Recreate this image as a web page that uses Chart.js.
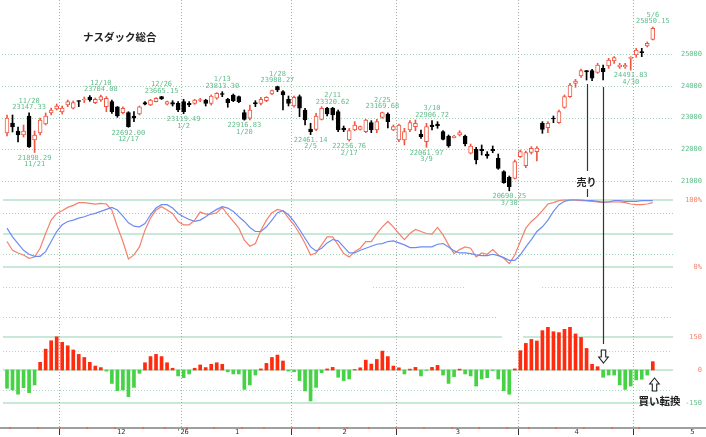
<!DOCTYPE html>
<html><head><meta charset="utf-8">
<script src="https://cdn.jsdelivr.net/npm/chart.js@4.4.1/dist/chart.umd.min.js"></script>
<style>html,body{margin:0;padding:0;background:#fff;overflow:hidden}canvas{display:block}</style>
</head><body>
<canvas id="c" width="706" height="437" style="width:706px;height:437px"></canvas>
<script>
// ---- categories (trading days) ----
const dates = [
'2025-11-14','2025-11-17','2025-11-18','2025-11-19','2025-11-20','2025-11-21','2025-11-24','2025-11-25','2025-11-26','2025-11-28',
'2025-12-01','2025-12-02','2025-12-03','2025-12-04','2025-12-05','2025-12-08','2025-12-09','2025-12-10','2025-12-11','2025-12-12','2025-12-15','2025-12-16','2025-12-17','2025-12-18','2025-12-19','2025-12-22','2025-12-23','2025-12-24','2025-12-26','2025-12-29','2025-12-30','2025-12-31',
'2026-01-02','2026-01-05','2026-01-06','2026-01-07','2026-01-08','2026-01-09','2026-01-12','2026-01-13','2026-01-14','2026-01-15','2026-01-16','2026-01-20','2026-01-21','2026-01-22','2026-01-23','2026-01-26','2026-01-27','2026-01-28','2026-01-29','2026-01-30',
'2026-02-02','2026-02-03','2026-02-04','2026-02-05','2026-02-06','2026-02-09','2026-02-10','2026-02-11','2026-02-12','2026-02-13','2026-02-17','2026-02-18','2026-02-19','2026-02-20','2026-02-23','2026-02-24','2026-02-25','2026-02-26','2026-02-27',
'2026-03-02','2026-03-03','2026-03-04','2026-03-05','2026-03-06','2026-03-09','2026-03-10','2026-03-11','2026-03-12','2026-03-13','2026-03-16','2026-03-17','2026-03-18','2026-03-19','2026-03-20','2026-03-23','2026-03-24','2026-03-25','2026-03-26','2026-03-27','2026-03-30','2026-03-31',
'2026-04-01','2026-04-02','2026-04-06','2026-04-07','2026-04-08','2026-04-09','2026-04-10','2026-04-13','2026-04-14','2026-04-15','2026-04-16','2026-04-17','2026-04-20','2026-04-21','2026-04-22','2026-04-23','2026-04-24','2026-04-27','2026-04-28','2026-04-29','2026-04-30',
'2026-05-01','2026-05-04','2026-05-05','2026-05-06'];

// ---- price series (OHLC) ----
const open = [22512,22827,22575,22449,23047,22291,22512,22795,23142,23268,
23173,23394,23290,23520,23551,23640,23466,23551,23340,23498,23340,23152,23152,23047,23110,23466,23394,23498,23656,23416,23466,23447,
23498,23447,23447,23536,23551,23447,23606,23756,23574,23709,23656,23152,22975,23466,23447,23530,23740,23970,23813,23574,
23362,23656,23236,22638,22628,22943,23290,23290,23183,22669,22291,22606,22628,22553,22837,22606,23006,23110,22606,
22291,22291,22606,22711,22480,22238,22764,22795,22553,22417,22364,22449,22417,21873,22000,22000,21850,22000,21716,21293,21116,
21085,21766,21483,21904,21923,22817,22680,22984,22836,23321,23656,24077,24307,24474,24474,24423,24550,24622,24780,24601,24590,24864,
24968,25073,25252,25463];
const high = [23079,23079,22701,22764,23147.33,22575,22984,23142,23299,23425,
23362,23551,23520,23530,23646,23690,23614,23704.08,23656,23551,23345,23340,23183,23183,23362,23498,23573,23625,23665.15,23520,23530,23498,
23574,23498,23574,23604,23574,23709,23782,23813.30,23604,23740,23677,23236,23394,23530,23637,23656,23866,23988.27,23845,23677,
23677,23709,23290,22818,23132,23340,23320,23320.62,23236,22732,22659,22868,22732,22943,22900,22943,23169.68,23150,22764,
22795,22659,22900,22921,22606,22817,22906.72,22868,22585,22449,22435,22585,22449,22165,22062,22134,21924,22102,21850,21325,21157,
21661,21976,21940,22081,22081,22868,22868,23047,23236,23709,24076,24202,24527,24480,24517,24706,24653,24864,24916,24706,24706,24916,
25180,25180,25380,25850.15];
const low = [22417,22543,22228,22386,22060,21898.29,22449,22764,23079,23236,
23110,23340,23268,23340,23470,23510,23435,23510,23182,23132,23006,23110,22692.00,22868,23079,23394,23372,23488,23567,23394,23362,23183,
23119.49,23340,23416,23498,23362,23394,23574,23656,23322,23498,23466,22916.83,22921,23340,23394,23498,23719,23813,23236,23362,
23322,23026,22764,22461.14,22585,22921,23047,22921,22554,22554,22256.76,22585,22606,22522,22522,22522,22975,22670,22585,
22238,22134,22553,22585,22345,22061.97,22606,22660,22291,22062,22354,22417,22102,21850,21535,21819,21716,21892,21368,20927,20690.25,
21062,21740,21420,21850,21630,22502,22520,22836,22815,23290,23635,23950,24265,24181,24160,24391,24181,24548,24706,24548,24548,24491.83,
24895,24916,25220,25441];
const close = [22984,22701,22449,22575,22071,22449,22921,23047,23236,23362,
23299,23500,23470,23505,23583,23551,23574,23656,23604,23182,23047,23290,22710,22975,23340,23416,23551,23604,23583,23498,23416,23236,
23182,23394,23551,23567,23447,23677,23762,23725,23466,23529,23498,22943,23236,23425,23574,23637,23845,23866,23709,23447,
23636,23290,22921,22554,23047,23290,23110,23079,22606,22606,22585,22764,22711,22921,22606,22868,23155,22868,22711,
22764,22553,22837,22817,22396,22711,22711,22732,22313,22102,22417,22522,22165,22102,21661,21956,21787,21956,21400,20947,20820,
21608,21923,21892,22029,22039,22628,22817,22953,23183,23656,24024,24150,24474,24433,24235,24653,24443,24811,24884,24653,24650,24895,
25126,25042,25337,25810];

// ---- stochastics (%) ----
const stochFast = [38,25,21,18,13,15,28,50,70,80,
84,89,92,96,96,95,94,95,94,85,60,38,12,18,30,55,73,85,90,85,80,68,
63,63,70,82,79,79,81,89,78,68,58,40,31,35,55,70,81,86,84,73,
63,50,35,18,21,33,45,45,33,20,15,23,28,38,38,50,60,68,60,
50,41,50,56,53,50,49,59,48,33,20,26,30,28,15,21,19,26,18,13,5,
18,38,58,68,75,84,94,96,99,100,100,100,99,99,98,97,96,97,97,97,96,94,
93,93,94,96];
const stochSlow = [58,45,35,25,19,16,16,23,38,53,
63,68,70,73,75,78,80,83,86,89,85,76,66,61,60,65,78,88,93,93,88,80,
75,71,68,70,75,81,86,90,88,83,75,68,59,53,53,60,70,81,84,78,
68,56,43,30,24,28,36,41,39,30,21,21,25,28,31,34,35,38,39,
36,33,29,29,30,30,30,34,35,30,24,21,21,20,18,17,17,19,17,14,10,
10,18,30,41,53,60,70,83,93,98,100,100,100,99,99,98,97,97,99,99,98,98,
98,99,99,99];

// ---- oscillator histogram ----
const oscHist = [-83,-91,-110,-80,-103,-68,35,95,133,151,
126,110,91,71,57,35,18,11,-5,-61,-94,-91,-121,-79,-15,33,61,71,61,33,8,-27,
-35,-18,8,23,11,26,33,26,-8,-18,-18,-88,-68,-23,5,30,57,68,41,-5,
-8,-48,-95,-141,-79,-12,5,12,-33,-48,-41,2,10,45,27,48,86,61,18,
10,-18,4,12,-27,-2,12,21,-23,-61,-30,4,-18,-27,-73,-41,-35,-2,-41,-94,-110,
5,88,121,139,132,179,194,174,170,185,194,164,148,98,26,15,-33,-23,-23,-68,-88,-73,
-45,-42,-23,38];

// ---- annotations / tick labels ----
const highMarks = ['2025-11-20','2025-12-10','2025-12-26','2026-01-13','2026-01-28','2026-02-11','2026-02-25','2026-03-10','2026-05-06'];
const lowMarks = ['2025-11-21','2025-12-17','2026-01-02','2026-01-20','2026-02-05','2026-02-17','2026-03-09','2026-03-30','2026-04-30'];
const priceTicks = [25000,24000,23000,22000,21000];
const stochTicks = ['100%','0%'];
const oscTicks = [150,0,-150];
const monthTickLabels = ['12','1','2','3','4','5'];
const yearTickLabel = "'26";
const title = 'ナスダック総合';
const sellLabel = '売り';
const buyLabel = '買い転換';
const sellDates = ['2026-04-20','2026-04-23'];
const buyDate = '2026-05-06';

// ---- styling ----
const RED = '#ef5742', GREENTXT = '#62bd8c', SALMON = '#f4846f';
const MONO = '"DejaVu Sans Mono", monospace';
const CJK = '"Noto Sans CJK JP", sans-serif';
const idxOf = d => dates.indexOf(d);
const up = i => close[i] >= open[i];
const md = d => { const p = d.split('-'); return (+p[1]) + '/' + (+p[2]); };

const panels = {
  id: 'panels',
  beforeDraw(chart) {
    const ctx = chart.ctx;
    ctx.save(); ctx.fillStyle = '#fff'; ctx.fillRect(0, 0, chart.width, chart.height); ctx.restore();
  },
  beforeDatasetsDraw(chart) {
    const {ctx, scales: {x, yp, ys, ym}} = chart;
    ctx.save();
    const hline = (y, dotted, color, lw, segs) => {
      ctx.strokeStyle = color; ctx.lineWidth = lw;
      ctx.setLineDash(dotted ? [1, 2] : []);
      const yy = Math.round(y) + (lw % 2 ? 0.5 : 0);
      (segs || [[2, 672]]).forEach(([a, b]) => { ctx.beginPath(); ctx.moveTo(a, yy); ctx.lineTo(b, yy); ctx.stroke(); });
    };
    // price grid
    priceTicks.forEach(v => hline(yp.getPixelForValue(v), true, '#9fd6b8', 1));
    // stochastic grid
    [100, 50, 0].forEach(v => hline(ys.getPixelForValue(v), false, '#c9e8d7', 2, [[3, 673]]));
    [80, 20].forEach(v => hline(ys.getPixelForValue(v), true, '#9fd6b8', 1, [[3, 673]]));
    // oscillator grid
    hline(ym.getPixelForValue(379), true, '#a8dcbf', 1, [[3, 297], [373, 465], [542, 672]]);
    hline(ym.getPixelForValue(240), true, '#a8dcbf', 1, [[3, 498], [523, 672]]);
    hline(ym.getPixelForValue(150), false, '#c9e8d7', 2, [[3, 502], [523, 673]]);
    hline(ym.getPixelForValue(0), false, '#c9e8d7', 2, [[3, 673]]);
    hline(ym.getPixelForValue(-150), false, '#c9e8d7', 2, [[3, 673]]);
    [88, -91].forEach(v => hline(ym.getPixelForValue(v), true, '#a8dcbf', 1, [[3, 672]]));

    // month boundaries
    const bounds = [];
    for (let i = 1; i < dates.length; i++) if (dates[i].slice(5, 7) !== dates[i - 1].slice(5, 7)) bounds.push(i);
    ctx.setLineDash([1, 2]); ctx.strokeStyle = '#a9a9a9'; ctx.lineWidth = 1;
    bounds.forEach(i => {
      const px = Math.round(x.getPixelForValue(i - 0.5)) + 0.5;
      ctx.beginPath(); ctx.moveTo(px, 0); ctx.lineTo(px, 427); ctx.stroke();
    });
    ctx.setLineDash([]);
    // x axis line
    ctx.strokeStyle = '#a0a0a0'; ctx.lineWidth = 2;
    ctx.beginPath(); ctx.moveTo(0, 428); ctx.lineTo(706, 428); ctx.stroke();
    // weekly red marks
    ctx.fillStyle = '#f06a55';
    const wd = d => new Date(d + 'T00:00:00Z').getUTCDay();
    for (let i = 1; i < dates.length; i++) if (wd(dates[i]) < wd(dates[i - 1])) {
      const px = Math.round(x.getPixelForValue(i - 0.45));
      ctx.fillRect(px - 1, 427, 2, 2);
    }
    // month ticks + labels
    ctx.font = '7px ' + MONO; ctx.fillStyle = '#333'; ctx.textAlign = 'center'; ctx.textBaseline = 'middle';
    ctx.strokeStyle = '#333'; ctx.lineWidth = 1;
    bounds.forEach(i => {
      const px = Math.round(x.getPixelForValue(i - 0.5)) + 0.5;
      if (dates[i].slice(0, 4) !== dates[i - 1].slice(0, 4)) {
        ctx.fillText(yearTickLabel, px + 1, 432.5);
      } else {
        ctx.beginPath(); ctx.moveTo(px, 429); ctx.lineTo(px, 435); ctx.stroke();
      }
    });
    // month mid labels (months starting at a boundary)
    bounds.forEach((b, k) => {
      const end = k + 1 < bounds.length ? bounds[k + 1] - 1 : b + 20;
      const mid = (b + end) / 2;
      ctx.fillText(monthTickLabels[k], x.getPixelForValue(mid) + 1, 432.5);
    });

    // right labels
    ctx.textAlign = 'right'; ctx.font = '7px ' + MONO;
    ctx.fillStyle = GREENTXT;
    priceTicks.forEach(v => ctx.fillText(String(v), 702, yp.getPixelForValue(v)));
    ctx.fillStyle = SALMON;
    ctx.fillText(stochTicks[0], 702, ys.getPixelForValue(100));
    ctx.fillText(stochTicks[1], 702, ys.getPixelForValue(0));
    oscTicks.forEach(v => { ctx.fillStyle = v < 0 ? GREENTXT : SALMON; ctx.fillText(String(v), 702, ym.getPixelForValue(v)); });
    ctx.restore();
  },
  afterDatasetsDraw(chart) {
    const {ctx, scales: {x, yp, ym}} = chart;
    ctx.save();
    // price marks (clipped to panel)
    ctx.save();
    ctx.beginPath(); ctx.rect(0, 0, 669, 437); ctx.clip();
    ctx.font = '7px ' + MONO; ctx.fillStyle = GREENTXT; ctx.textAlign = 'center'; ctx.textBaseline = 'middle';
    highMarks.forEach(d => {
      const i = idxOf(d), px = x.getPixelForValue(i), py = yp.getPixelForValue(high[i]);
      ctx.fillText(md(d), px, py - 12);
      ctx.fillText(high[i].toFixed(2), px, py - 5.5);
    });
    lowMarks.forEach(d => {
      const i = idxOf(d), px = x.getPixelForValue(i), py = yp.getPixelForValue(low[i]);
      ctx.fillText(low[i].toFixed(2), px, py + 5.5);
      ctx.fillText(md(d), px, py + 12);
    });
    ctx.restore();
    // title
    ctx.font = 'bold 10.5px ' + CJK; ctx.fillStyle = '#222'; ctx.textAlign = 'left'; ctx.textBaseline = 'middle';
    ctx.fillText(title, 83, 37);
    // sell annotation
    ctx.strokeStyle = '#333'; ctx.lineWidth = 1.2;
    const s1 = idxOf(sellDates[0]), s2 = idxOf(sellDates[1]);
    const x1 = Math.round(x.getPixelForValue(s1)) + 0.5, x2 = Math.round(x.getPixelForValue(s2)) + 0.5;
    ctx.beginPath();
    ctx.moveTo(x1, yp.getPixelForValue(low[s1]) + 4); ctx.lineTo(x1, 171);
    ctx.moveTo(x1, 189); ctx.lineTo(x1, 197);
    ctx.moveTo(x2, yp.getPixelForValue(low[s2]) + 7); ctx.lineTo(x2, 344);
    ctx.stroke();
    ctx.font = 'bold 10px ' + CJK; ctx.fillStyle = '#222'; ctx.textAlign = 'center';
    ctx.fillText(sellLabel, x1 - 1, 182);
    const arrow = (cx, tipY, dir) => {
      const sh = 2.2, hw = 4.8, hl = 6, sl = 7;
      const pts = [[0, 0], [hw, -hl], [sh, -hl], [sh, -hl - sl], [-sh, -hl - sl], [-sh, -hl], [-hw, -hl]];
      ctx.beginPath();
      pts.forEach(([a, b], k) => { const X = cx + a, Y = tipY + b * dir; k ? ctx.lineTo(X, Y) : ctx.moveTo(X, Y); });
      ctx.closePath(); ctx.fillStyle = '#fff'; ctx.fill(); ctx.strokeStyle = '#222'; ctx.lineWidth = 1.1; ctx.stroke();
    };
    arrow(x2, 363, 1);
    const b = idxOf(buyDate), bx = Math.round(x.getPixelForValue(b)) + 0.5;
    arrow(bx + 1, ym.getPixelForValue(0) + 8, -1);
    ctx.font = 'bold 10.5px ' + CJK; ctx.fillStyle = '#222'; ctx.textAlign = 'center';
    ctx.fillText(buyLabel, bx + 6, 401);
    ctx.restore();
  }
};

const idx = dates.map((_, i) => i);
new Chart(document.getElementById('c'), {
  type: 'bar',
  data: {
    datasets: [
      { label: 'body', yAxisID: 'yp', order: 1, grouped: false, barThickness: 4, minBarLength: 1,
        borderSkipped: false, borderWidth: 1,
        data: idx.map(i => ({x: i, y: [open[i], close[i]]})),
        backgroundColor: idx.map(i => up(i) ? '#ffffff' : '#000000'),
        borderColor: idx.map(i => up(i) ? RED : '#000000') },
      { label: 'wick', yAxisID: 'yp', order: 2, grouped: false, barThickness: 1,
        data: idx.map(i => ({x: i, y: [low[i], high[i]]})),
        backgroundColor: idx.map(i => up(i) ? RED : '#000000') },
      { label: 'osc', yAxisID: 'ym', order: 3, grouped: false, barThickness: 3,
        data: idx.map(i => ({x: i, y: oscHist[i]})),
        backgroundColor: idx.map(i => oscHist[i] >= 0 ? '#ff2b0e' : '#45d245') },
      { type: 'line', label: 'slow', yAxisID: 'ys', order: 4, borderColor: '#6c8cf2', borderWidth: 1.2,
        pointRadius: 0, tension: 0, data: idx.map(i => ({x: i, y: stochSlow[i]})) },
      { type: 'line', label: 'fast', yAxisID: 'ys', order: 5, borderColor: '#f5806c', borderWidth: 1.2,
        pointRadius: 0, tension: 0, data: idx.map(i => ({x: i, y: stochFast[i]})) }
    ]
  },
  options: {
    responsive: false, animation: false, devicePixelRatio: 1, events: [],
    layout: {padding: 0},
    plugins: {legend: {display: false}, tooltip: {enabled: false}},
    scales: {
      x: {type: 'linear', display: false, min: -1.268, max: 126.64, offset: false},
      yp: {type: 'linear', display: false, min: 12937, max: 26700.8},
      ys: {type: 'linear', display: false, min: -253.7, max: 398.5},
      ym: {type: 'linear', display: false, min: -304.5, max: 1681.8}
    }
  },
  plugins: [panels]
});
</script>
</body></html>
